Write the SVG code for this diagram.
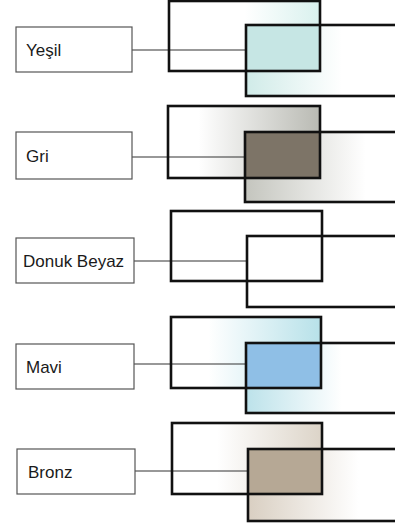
<svg xmlns="http://www.w3.org/2000/svg" width="395" height="524" viewBox="0 0 395 524">
<defs>
<linearGradient id="aT" x1="0" y1="0" x2="1" y2="0"><stop offset="0.5" stop-color="#fff"/><stop offset="1" stop-color="#d9f1ee"/></linearGradient>
<linearGradient id="bT" x1="0" y1="0" x2="1" y2="0"><stop offset="0" stop-color="#d0ebe8"/><stop offset="0.6" stop-color="#fff"/></linearGradient>
<linearGradient id="aG" x1="0" y1="0" x2="1" y2="0"><stop offset="0.2" stop-color="#fff"/><stop offset="1" stop-color="#b9bab3"/></linearGradient>
<linearGradient id="bG" x1="0" y1="0" x2="1" y2="0"><stop offset="0" stop-color="#c4c5be"/><stop offset="0.75" stop-color="#fff"/></linearGradient>
<linearGradient id="aB" x1="0" y1="0" x2="1" y2="0"><stop offset="0.25" stop-color="#fff"/><stop offset="1" stop-color="#b7e1e9"/></linearGradient>
<linearGradient id="bB" x1="0" y1="0" x2="1" y2="0"><stop offset="0" stop-color="#bce2ea"/><stop offset="0.6" stop-color="#fff"/></linearGradient>
<linearGradient id="aZ" x1="0" y1="0" x2="1" y2="0"><stop offset="0.3" stop-color="#fff"/><stop offset="1" stop-color="#dcd4c8"/></linearGradient>
<linearGradient id="bZ" x1="0" y1="0" x2="1" y2="0"><stop offset="0" stop-color="#d9cfc2"/><stop offset="0.7" stop-color="#fff"/></linearGradient>
</defs>
<style>
.lbl{fill:#fff;stroke:#555;stroke-width:1.2}
.txt{font-family:"Liberation Sans",Arial,sans-serif;font-size:17px;fill:#1a1a1a}
.frame{fill:none;stroke:#111;stroke-width:2.6}
.conn{stroke:#333;stroke-width:1.2;fill:none}
</style>
<rect width="395" height="524" fill="#fff"/>

<g id="connectors">
<line class="conn" x1="132" y1="50" x2="246" y2="50"/>
<line class="conn" x1="132" y1="157" x2="245" y2="157"/>
<line class="conn" x1="134" y1="261" x2="247" y2="261"/>
<line class="conn" x1="134" y1="364" x2="246" y2="364"/>
<line class="conn" x1="135" y1="471" x2="248" y2="471"/>
</g>

<g id="label-yesil"><rect class="lbl" x="16" y="27" width="116" height="45"/><text class="txt" x="26" y="56">Yeşil</text></g>
<g id="label-gri"><rect class="lbl" x="16" y="132" width="116" height="47"/><text class="txt" x="26" y="162">Gri</text></g>
<g id="label-donuk-beyaz"><rect class="lbl" x="16" y="238" width="118" height="45"/><text class="txt" x="23" y="267">Donuk Beyaz</text></g>
<g id="label-mavi"><rect class="lbl" x="16" y="344" width="118" height="45"/><text class="txt" x="26" y="373">Mavi</text></g>
<g id="label-bronz"><rect class="lbl" x="17" y="449" width="118" height="45"/><text class="txt" x="28" y="478">Bronz</text></g>

<g id="swatch-yesil">
<rect x="169" y="1" width="151" height="70" fill="url(#aT)"/>
<rect x="246" y="25" width="160" height="71" fill="url(#bT)"/>
<rect x="246" y="25" width="74" height="46" fill="#c6e6e4"/>
<line class="conn" x1="169" y1="50" x2="246" y2="50"/>
<rect class="frame" x="169" y="1" width="151" height="70"/>
<rect class="frame" x="246" y="25" width="160" height="71"/>
</g>
<g id="swatch-gri">
<rect x="168" y="106" width="152" height="72" fill="url(#aG)"/>
<rect x="245" y="132" width="161" height="70" fill="url(#bG)"/>
<rect x="245" y="132" width="75" height="46" fill="#7d7467"/>
<line class="conn" x1="168" y1="157" x2="245" y2="157"/>
<rect class="frame" x="168" y="106" width="152" height="72"/>
<rect class="frame" x="245" y="132" width="161" height="70"/>
</g>
<g id="swatch-donuk-beyaz">
<rect class="frame" x="171" y="211" width="151" height="70"/>
<rect class="frame" x="247" y="236" width="159" height="71"/>
</g>
<g id="swatch-mavi">
<rect x="171" y="317" width="150" height="71" fill="url(#aB)"/>
<rect x="246" y="343" width="160" height="70" fill="url(#bB)"/>
<rect x="246" y="343" width="75" height="45" fill="#8fbfe6"/>
<line class="conn" x1="171" y1="364" x2="246" y2="364"/>
<rect class="frame" x="171" y="317" width="150" height="71"/>
<rect class="frame" x="246" y="343" width="160" height="70"/>
</g>
<g id="swatch-bronz">
<rect x="172" y="423" width="150" height="71" fill="url(#aZ)"/>
<rect x="248" y="449" width="158" height="72" fill="url(#bZ)"/>
<rect x="248" y="449" width="74" height="45" fill="#b6a895"/>
<line class="conn" x1="172" y1="471" x2="248" y2="471"/>
<rect class="frame" x="172" y="423" width="150" height="71"/>
<rect class="frame" x="248" y="449" width="158" height="72"/>
</g>
</svg>
